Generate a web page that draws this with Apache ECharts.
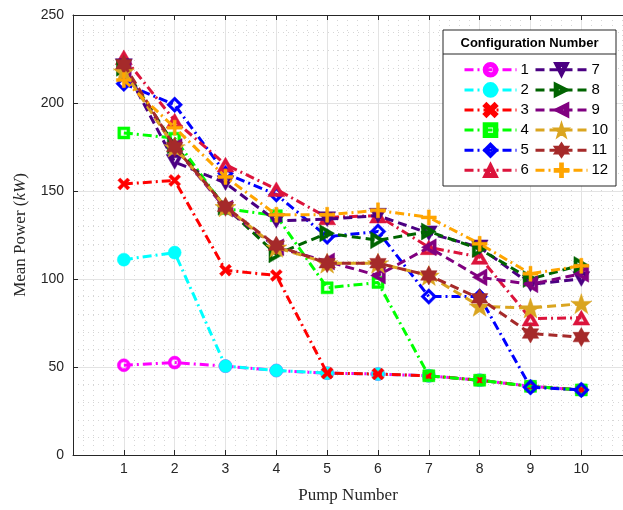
<!DOCTYPE html>
<html>
<head>
<meta charset="utf-8">
<script src="https://cdn.jsdelivr.net/npm/echarts@6/dist/echarts.min.js"></script>
<style>html,body{margin:0;padding:0;background:#fff}#c{width:623px;height:510px}</style>
</head>
<body>
<div id="c"></div>
<script>
var pumps = [1,2,3,4,5,6,7,8,9,10];
var xTickLabels = ['1','2','3','4','5','6','7','8','9','10'];
var yTickLabels = ['0','50','100','150','200','250'];
var seriesNames = ['1','2','3','4','5','6','7','8','9','10','11','12'];
var cfg1  = [51, 52.5, 50.5, 48, 46.5, 46, 45, 42.5, 39, 37];
var cfg2  = [111, 115, 50.5, 48, 46.5, 46, 45, 42.5, 39, 37];
var cfg3  = [154, 156, 105, 102, 46.5, 46, 45, 42.5, 39, 37];
var cfg4  = [183, 180, 140, 136, 95, 98, 45, 42.5, 39, 37];
var cfg5  = [211, 199, 160, 148, 124, 127, 90, 90, 38.5, 37];
var cfg6  = [226, 190, 165, 151, 135, 136, 118, 112.5, 77.5, 78];
var cfg7  = [221, 166.5, 154.5, 133, 134, 136, 126, 118, 97, 100];
var cfg8  = [220, 176, 141, 114, 126, 122, 127, 117, 100, 108];
var cfg9  = [219, 175, 140, 118, 110, 102, 118, 101, 97, 103];
var cfg10 = [218, 175, 141, 118, 109, 109, 102, 84.5, 83.5, 86];
var cfg11 = [222, 175, 141, 119, 109, 109, 102, 89, 69, 67];
var cfg12 = [213, 186, 158, 136.5, 136.5, 139, 135, 120, 103, 107.5];
var allData = [cfg1,cfg2,cfg3,cfg4,cfg5,cfg6,cfg7,cfg8,cfg9,cfg10,cfg11,cfg12];

var colors = ['#FF00FF','#00FFFF','#FF0000','#00FF00','#0000FF','#DC143C','#4B0082','#006400','#800080','#DAA520','#A52A2A','#FFA500'];
var DASHDOT = [9,4,2,4];
var DASHED = [9,5];
var PX = 'path://M2,0 L5,3 L8,0 L10,2 L7,5 L10,8 L8,10 L5,7 L2,10 L0,8 L3,5 L0,2 Z';
var PPLUS = 'path://M4,0 H6 V4 H10 V6 H6 V10 H4 V6 H0 V4 H4 Z';
var PSTAR = 'path://M50,0 L61.8,35.1 L97.6,34.5 L69.1,56.7 L79.4,90.5 L50,70 L20.6,90.5 L30.9,56.7 L2.4,34.5 L38.2,35.1 Z';
var PHEX = 'path://M50,0 L64.4,25 L93.3,25 L78.9,50 L93.3,75 L64.4,75 L50,100 L35.6,75 L6.7,75 L21.1,50 L6.7,25 L35.6,25 Z';
var PTRI = 'path://M50,0 L100,86.6 L0,86.6 Z M50,38 L33,67.5 L67,67.5 Z';
var PDIA = 'path://M50,0 L100,50 L50,100 L0,50 Z M50,24 L24,50 L50,76 L76,50 Z';
var PSQ = 'path://M0,0 H100 V100 H0 Z M24,24 V76 H76 V24 Z';
var PCIR = 'path://M50,0 A50,50 0 1,1 49.99,0 Z M50,24 A26,26 0 1,0 50.01,24 Z';
var styles = [
  {sym:PCIR, size:13, rot:0, dash:DASHDOT},
  {sym:'circle', size:13, rot:0, dash:DASHDOT},
  {sym:PX, size:12, rot:0, dash:DASHDOT},
  {sym:PSQ, size:12, rot:0, dash:DASHDOT},
  {sym:PDIA, size:16, rot:0, dash:DASHDOT},
  {sym:PTRI, size:17, rot:0, dash:DASHDOT},
  {sym:PTRI, size:17, rot:180, dash:DASHED},
  {sym:PTRI, size:17, rot:-90, dash:DASHED},
  {sym:PTRI, size:17, rot:90, dash:DASHED},
  {sym:PSTAR, size:21, rot:0, dash:DASHED},
  {sym:PHEX, size:19, rot:0, dash:DASHED},
  {sym:PPLUS, size:15, rot:0, dash:DASHDOT}
];

var series = allData.map(function(d, i){
  var st = styles[i];
  return {
    name: seriesNames[i],
    type: 'line',
    data: pumps.map(function(p, j){ return [p, d[j]]; }),
    symbol: st.sym,
    symbolSize: st.size,
    symbolRotate: st.rot,
    symbolKeepAspect: true,
    showAllSymbol: true,
    animation: false,
    color: colors[i],
    lineStyle: {color: colors[i], width: 3, type: st.dash},
    itemStyle: {color: colors[i], borderColor: colors[i], borderWidth: 0.5},
    emphasis: {disabled: true},
    z: 2 + i
  };
});

var legendCommon = {
  orient: 'vertical',
  itemWidth: 52,
  itemHeight: 17,
  itemGap: 4.5,
  z: 100,
  lineStyle: {width: 3},
  textStyle: {fontFamily: 'Liberation Sans, Arial, sans-serif', fontSize: 15, color: '#000', padding: [0,0,0,-1]},
  selectedMode: false
};

var chart = echarts.init(document.getElementById('c'), null, {renderer: 'canvas'});
chart.setOption({
  backgroundColor: '#fff',
  animation: false,
  grid: {left: 73, top: 15, bottom: 55, right: 0, containLabel: false},
  xAxis: [{
    type: 'value', min: 0, max: 10.82, interval: 1,
    name: 'Pump Number', nameLocation: 'middle', nameGap: 32,
    nameTextStyle: {fontFamily: 'Liberation Serif, Times New Roman, serif', fontSize: 17, color: '#262626'},
    axisLine: {show: true, onZero: false, lineStyle: {color: '#262626', width: 1}},
    axisTick: {show: true, inside: true, length: 5, lineStyle: {color: '#262626'}},
    axisLabel: {margin: 7, showMaxLabel: false, fontFamily: 'Liberation Sans, Arial, sans-serif', fontSize: 14, color: '#262626',
      formatter: function(v){ return (v >= 1 && v <= 10) ? xTickLabels[Math.round(v)-1] : ''; }},
    splitLine: {show: true, lineStyle: {color: '#e3e3e3', width: 1}},
    minorTick: {show: false, splitNumber: 5},
    minorSplitLine: {show: true, lineStyle: {color: '#d6d6d6', width: 1, type: [1,4]}}
  },{
    type: 'value', min: 0, max: 10.82, interval: 1, position: 'top',
    axisLine: {show: true, onZero: false, lineStyle: {color: '#262626', width: 1}},
    axisTick: {show: true, inside: true, length: 5, lineStyle: {color: '#262626'}},
    axisLabel: {show: false}, splitLine: {show: false}
  }],
  yAxis: [{
    type: 'value', min: 0, max: 250, interval: 50,
    name: 'Mean Power ({i|kW})', nameLocation: 'middle', nameGap: 44,
    nameTextStyle: {fontFamily: 'Liberation Serif, Times New Roman, serif', fontSize: 17, color: '#262626',
      rich: {i: {fontFamily: 'Liberation Serif, Times New Roman, serif', fontSize: 17, fontStyle: 'italic', color: '#262626'}}},
    axisLine: {show: true, onZero: false, lineStyle: {color: '#262626', width: 1}},
    axisTick: {show: true, inside: true, length: 5, lineStyle: {color: '#262626'}},
    axisLabel: {margin: 9, fontFamily: 'Liberation Sans, Arial, sans-serif', fontSize: 14, color: '#262626',
      formatter: function(v){ return yTickLabels[Math.round(v/50)]; }},
    splitLine: {show: true, lineStyle: {color: '#e3e3e3', width: 1}},
    minorTick: {show: false, splitNumber: 5},
    minorSplitLine: {show: true, lineStyle: {color: '#d6d6d6', width: 1, type: [1,4]}}
  }],
  legend: [
    Object.assign({data: seriesNames.slice(0,6), left: 458, top: 57}, legendCommon),
    Object.assign({data: seriesNames.slice(6), left: 529, top: 57}, legendCommon)
  ],
  graphic: [
    {type: 'rect', shape: {x: 443, y: 30, width: 173, height: 156}, style: {fill: '#fff', stroke: '#262626', lineWidth: 1}, z: 50},
    {type: 'line', shape: {x1: 443, y1: 54, x2: 616, y2: 54}, style: {stroke: '#262626', lineWidth: 1}, z: 51},
    {type: 'text', x: 529.5, y: 43, style: {text: 'Configuration Number', fontFamily: 'Liberation Sans, Arial, sans-serif', fontSize: 13, fontWeight: 'bold', fill: '#000', align: 'center', verticalAlign: 'middle'}, z: 51}
  ],
  series: series
});
</script>
</body>
</html>
